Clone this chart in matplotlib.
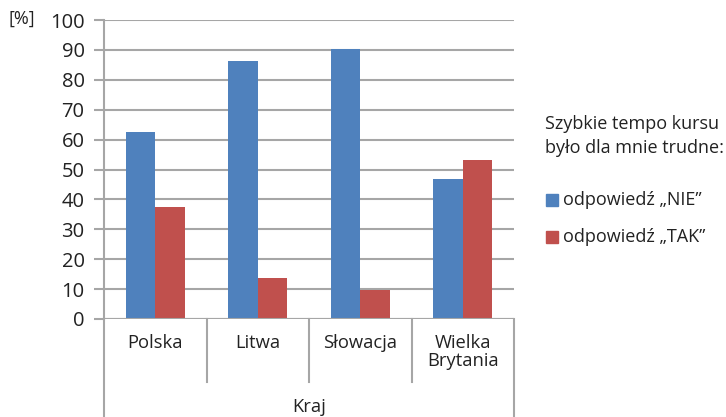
import numpy as np
import matplotlib.pyplot as plt
from matplotlib.lines import Line2D

plt.rcParams['font.family'] = ['Open Sans', 'DejaVu Sans']

kraje = ["Polska", "Litwa", "Słowacja", "Wielka\nBrytania"]
nie = [62.4, 86.3, 90.4, 46.7]
tak = [37.6, 13.7, 9.6, 53.3]
etykiety = ["odpowiedź „NIE”", "odpowiedź „TAK”"]
kolory = ["#4F81BD", "#C0504D"]
siatka = "#A6A6A6"
tekst = "#222222"

fig = plt.figure(figsize=(7.26, 4.17), dpi=100)
ax = fig.add_axes([104/726, 1 - 319/417, 410/726, 299/417])

x = np.arange(len(kraje))
w = 0.286
ax.bar(x - w/2, nie, w, color=kolory[0], zorder=3)
ax.bar(x + w/2, tak, w, color=kolory[1], zorder=3)

ax.set_xlim(-0.5, len(kraje) - 0.5)
ax.set_ylim(0, 100)
ax.set_yticks(range(0, 101, 10))
ax.yaxis.grid(True, color=siatka, lw=1.5, zorder=0)
ax.tick_params(axis='y', length=7, width=1.5, color=siatka, labelsize=14.5,
               pad=7, labelcolor=tekst)
ax.set_xticks([])
for s in ["top", "right", "bottom"]:
    ax.spines[s].set_visible(False)
ax.spines["left"].set_color(siatka)
ax.spines["left"].set_linewidth(1.5)

# podział kategorii pod osią
low = -63 / 299
for i in range(len(kraje) + 1):
    y0 = -98 / 299 if i in (0, len(kraje)) else low
    ax.add_line(Line2D([i / len(kraje)] * 2, [0, y0], transform=ax.transAxes,
                       color=siatka, lw=1.5, clip_on=False))
ax.axhline(0, color=siatka, lw=1.5, zorder=4)

for i, k in enumerate(kraje):
    ax.text(i, -15 / 299 * 100, k, ha='center', va='top', fontsize=13.2,
            linespacing=1.0, color=tekst)
ax.text(1.5, -88 / 299 * 100, "Kraj", ha='center', va='center', fontsize=13.2,
        color=tekst)

fig.text(8/726, 1 - 19/417, "[%]", fontsize=13, va='center', color=tekst)

fig.text(545/726, 1 - 136/417, "Szybkie tempo kursu\nbyło dla mnie trudne:",
         fontsize=13, va='center', linespacing=1.45, color=tekst)
for j, (lab, c) in enumerate(zip(etykiety, kolory)):
    yy = 1 - (200 + j * 37) / 417
    fig.patches.append(plt.Rectangle((546/726, yy - 6/417), 12/726, 12/417,
                                     transform=fig.transFigure, color=c))
    fig.text(563/726, yy, lab, fontsize=13, va='center', color=tekst)

fig.savefig("out.png", dpi=100)
